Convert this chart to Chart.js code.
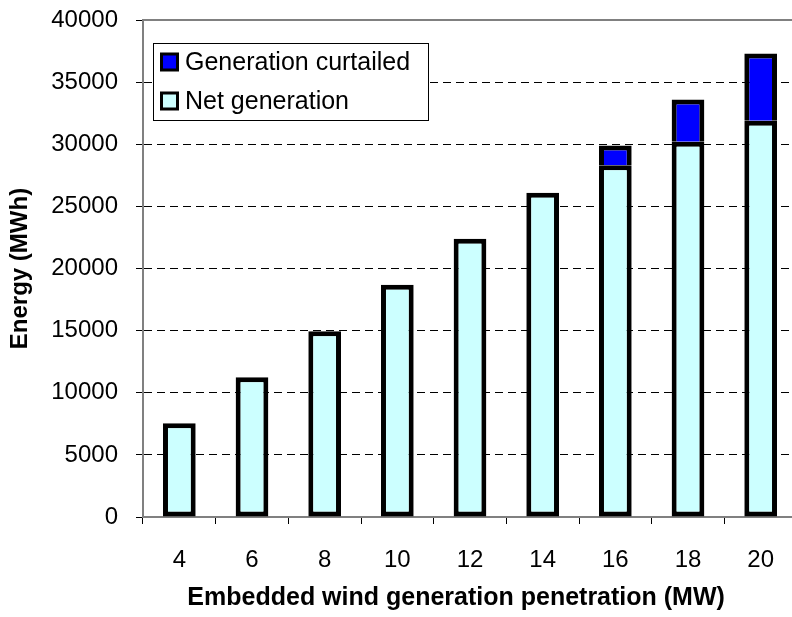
<!DOCTYPE html>
<html>
<head>
<meta charset="utf-8">
<script src="https://cdn.jsdelivr.net/npm/chart.js@4/dist/chart.umd.min.js"></script>
<style>
  html, body { margin: 0; padding: 0; background: #fff; overflow: hidden; }
  #wrap { position: relative; width: 797px; height: 617px; }
</style>
</head>
<body>
<div id="wrap"><canvas id="chart"></canvas></div>
<script>
// Wind penetration levels (MW)
const categories = ['4', '6', '8', '10', '12', '14', '16', '18', '20'];
// Energy delivered to the network (MWh)
const netGeneration = [7550, 11250, 14950, 18700, 22400, 26100, 28300, 30200, 31900];
// Energy lost to curtailment (MWh)
const curtailedGeneration = [0, 0, 0, 0, 0, 0, 1600, 3400, 5400];
// Energy axis ticks
const yMin = 0;
const yMax = 40000;
const yStep = 5000;

const FONT = 'Liberation Sans, Arial, sans-serif';

// Boxed legend drawn inside the plot area, last series first
const boxedLegend = {
  id: 'boxedLegend',
  afterDraw(chart) {
    const { ctx, chartArea } = chart;
    const x0 = chartArea.left + 10;
    const y0 = chartArea.top + 23;
    const w = 276, h = 78;
    ctx.save();
    ctx.fillStyle = '#fff';
    ctx.fillRect(x0, y0, w, h);
    ctx.strokeStyle = '#000';
    ctx.lineWidth = 1;
    ctx.strokeRect(x0 + 0.5, y0 + 0.5, w - 1, h - 1);
    const items = chart.data.datasets.slice().reverse();
    ctx.font = '25px ' + FONT;
    ctx.textBaseline = 'middle';
    items.forEach((ds, i) => {
      const cy = y0 + 19 + i * 39;
      const s = 19;
      ctx.fillStyle = '#000';
      ctx.fillRect(x0 + 7, cy - s / 2, s, s);
      ctx.fillStyle = ds.backgroundColor;
      ctx.fillRect(x0 + 10, cy - s / 2 + 3, s - 6, s - 6);
      ctx.fillStyle = '#000';
      ctx.fillText(ds.label, x0 + 32, cy + 1);
    });
    ctx.restore();
  }
};

new Chart(document.getElementById('chart'), {
  type: 'bar',
  data: {
    labels: categories,
    datasets: [
      {
        label: 'Net generation',
        data: netGeneration,
        backgroundColor: '#CCFFFF',
        borderColor: '#000',
        borderWidth: 5,
        borderSkipped: false,
        barPercentage: 0.45,
        categoryPercentage: 1
      },
      {
        label: 'Generation curtailed',
        data: curtailedGeneration,
        backgroundColor: '#0000FF',
        borderColor: '#000',
        borderWidth: ctx => (ctx.raw ? { top: 5, left: 5, right: 5, bottom: 0 } : 0),
        borderSkipped: 'start',
        barPercentage: 0.45,
        categoryPercentage: 1
      }
    ]
  },
  options: {
    responsive: true,
    maintainAspectRatio: false,
    animation: false,
    devicePixelRatio: 1,
    layout: { padding: 0 },
    plugins: {
      legend: { display: false },
      tooltip: { enabled: false }
    },
    scales: {
      x: {
        stacked: true,
        offset: true,
        grid: {
          display: true,
          offset: true,
          drawOnChartArea: false,
          drawTicks: true,
          tickLength: 7,
          tickColor: '#000',
          tickWidth: 1
        },
        border: { display: true, color: '#808080', width: 2 },
        ticks: {
          color: '#000',
          font: { family: FONT, size: 24 },
          padding: 22,
          maxRotation: 0,
          autoSkip: false
        },
        title: {
          display: true,
          // trailing spaces pull the centred title slightly left of the axis middle
          text: 'Embedded wind generation penetration (MW)\u00a0\u00a0\u00a0\u00a0',
          color: '#000',
          font: { family: FONT, size: 25, weight: 'bold' },
          padding: { top: 0, bottom: 4 }
        },
        afterFit(scale) {
          scale.height = 100;
          scale.paddingLeft = 0;
          scale.paddingRight = 0;
        }
      },
      xTop: {
        type: 'category',
        position: 'top',
        labels: categories,
        grid: { display: false, drawTicks: false },
        ticks: { display: false },
        border: { display: true, color: '#808080', width: 2 },
        afterFit(scale) { scale.height = 20; }
      },
      y: {
        stacked: true,
        min: yMin,
        max: yMax,
        ticks: {
          stepSize: yStep,
          color: '#000',
          font: { family: FONT, size: 24 },
          padding: 18,
          callback: v => String(v)
        },
        grid: {
          color: ctx => (ctx.tick && (ctx.tick.value === yMin || ctx.tick.value === yMax)) ? 'rgba(0,0,0,0)' : '#000',
          lineWidth: 1,
          drawTicks: true,
          tickLength: 7,
          tickColor: '#000',
          tickWidth: 1
        },
        border: { display: true, color: '#808080', width: 2, dash: [8, 5] },
        title: {
          display: true,
          text: 'Energy (MWh)',
          color: '#000',
          font: { family: FONT, size: 24, weight: 'bold' },
          padding: { top: 6, bottom: 0 }
        },
        afterFit(scale) {
          scale.width = 143;
          scale.paddingTop = 0;
          scale.paddingBottom = 0;
        }
      }
    }
  },
  plugins: [boxedLegend]
});
</script>
</body>
</html>
